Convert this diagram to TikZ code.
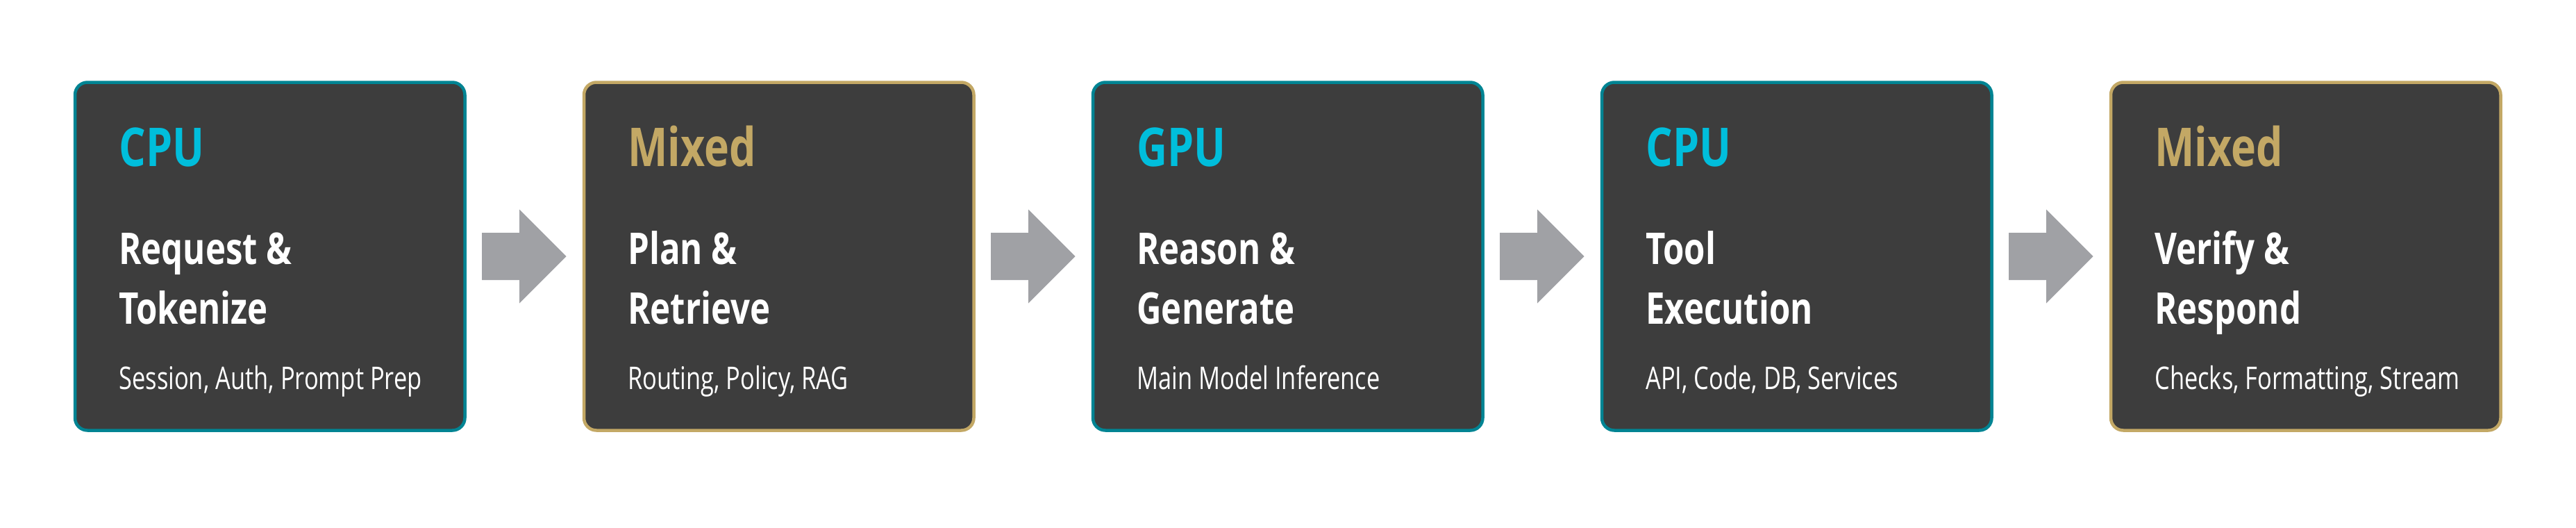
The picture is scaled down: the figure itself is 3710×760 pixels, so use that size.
\documentclass[tikz,border=0pt]{standalone}
\usepackage{fontspec}
\setmainfont{Open Sans}
\newfontfamily\headfont{Open Sans}[FakeStretch=0.79]
\newfontfamily\titlefont{Open Sans}[FakeStretch=0.78]
\newfontfamily\subfont{Open Sans}[FakeStretch=0.765]
\usetikzlibrary{calc}
\definecolor{boxfill}{HTML}{3D3D3D}
\definecolor{tealb}{HTML}{008493}
\definecolor{cyant}{HTML}{00BEDC}
\definecolor{gold}{HTML}{C3A865}
\definecolor{arrowc}{HTML}{A0A1A5}
\tikzset{
  stage/.style={rectangle, rounded corners=9pt, fill=boxfill, draw=#1, line width=2.25pt,
    minimum width=280.75pt, minimum height=250.5pt, inner sep=0pt, outer sep=0pt},
  headtxt/.style={anchor=base west, inner sep=0pt, text=#1,
    font=\headfont\bfseries\fontsize{38.5}{40}\selectfont},
  titletxt/.style={anchor=base west, inner sep=0pt, text=white,
    font=\titlefont\bfseries\fontsize{31.5}{34}\selectfont},
  subtxt/.style={anchor=base west, inner sep=0pt, text=white,
    font=\subfont\fontsize{22.5}{24}\selectfont},
  flow/.style={fill=arrowc}
}
\begin{document}
\begin{tikzpicture}[x=0.5pt,y=-0.5pt]
\useasboundingbox[fill=white] (0,0) rectangle (3710,760);
% boxes
\node[stage=tealb] (b1) at (388.75,369) {};
\node[stage=gold]  (b2) at (1121.75,369) {};
\node[stage=tealb] (b3) at (1854.75,369) {};
\node[stage=tealb] (b4) at (2587.75,369) {};
\node[stage=gold]  (b5) at (3320.75,369) {};
% texts
\node[headtxt=cyant] (h1) at ($(b1.north west)+(63,120.5)$) {CPU};
\node[titletxt] (t1a) at ($(b1.north west)+(63,261.5)$) {Request \&};
\node[titletxt] (t1b) at ($(b1.north west)+(63,347.5)$) {Tokenize};
\node[subtxt] (s1) at ($(b1.north west)+(63,441.5)$) {Session, Auth, Prompt Prep};

\node[headtxt=gold] (h2) at ($(b2.north west)+(63,120.5)$) {Mixed};
\node[titletxt] (t2a) at ($(b2.north west)+(63,261.5)$) {Plan \&};
\node[titletxt] (t2b) at ($(b2.north west)+(63,347.5)$) {Retrieve};
\node[subtxt] (s2) at ($(b2.north west)+(63,441.5)$) {Routing, Policy, RAG};

\node[headtxt=cyant] (h3) at ($(b3.north west)+(63,120.5)$) {GPU};
\node[titletxt] (t3a) at ($(b3.north west)+(63,261.5)$) {Reason \&};
\node[titletxt] (t3b) at ($(b3.north west)+(63,347.5)$) {Generate};
\node[subtxt] (s3) at ($(b3.north west)+(63,441.5)$) {Main Model Inference};

\node[headtxt=cyant] (h4) at ($(b4.north west)+(63,120.5)$) {CPU};
\node[titletxt] (t4a) at ($(b4.north west)+(63,261.5)$) {Tool};
\node[titletxt] (t4b) at ($(b4.north west)+(63,347.5)$) {Execution};
\node[subtxt] (s4) at ($(b4.north west)+(63,441.5)$) {API, Code, DB, Services};

\node[headtxt=gold] (h5) at ($(b5.north west)+(63,120.5)$) {Mixed};
\node[titletxt] (t5a) at ($(b5.north west)+(63,261.5)$) {Verify \&};
\node[titletxt] (t5b) at ($(b5.north west)+(63,347.5)$) {Respond};
\node[subtxt] (s5) at ($(b5.north west)+(63,441.5)$) {Checks, Formatting, Stream};
% arrows
\foreach \a/\b in {b1/b2,b2/b3,b3/b4,b4/b5}{
  \fill[flow] ($(\a.east)+(24.5,-34)$) -- ($(\a.east)+(78.5,-34)$)
    -- ($(\a.east)+(78.5,-67.5)$) -- ($(\b.west)+(-25.5,0)$)
    -- ($(\a.east)+(78.5,67.5)$) -- ($(\a.east)+(78.5,34)$)
    -- ($(\a.east)+(24.5,34)$) -- cycle;
}
\end{tikzpicture}
\end{document}
